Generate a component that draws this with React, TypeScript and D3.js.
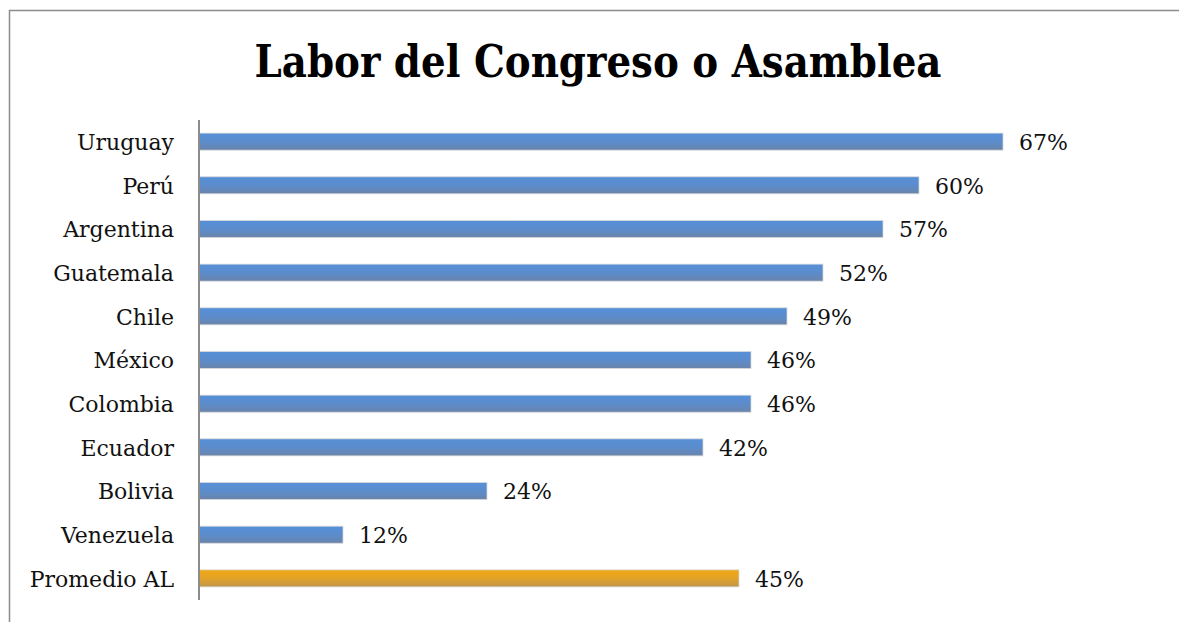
import React from "react";
import * as d3 from "d3";

const categories = ["Uruguay", "Perú", "Argentina", "Guatemala", "Chile", "México", "Colombia", "Ecuador", "Bolivia", "Venezuela", "Promedio AL"];
const values = [0.67, 0.60, 0.57, 0.52, 0.49, 0.46, 0.46, 0.42, 0.24, 0.12, 0.45];
const highlight = ["Promedio AL"];
const title = "Labor del Congreso o Asamblea";

const W = 1179;
const H = 622;
const font = "'DejaVu Serif', 'Liberation Serif', serif";

export default function App() {
  const x = d3.scaleLinear().domain([0, 0.7]).range([199, 1039]);
  const y = d3.scaleBand<string>().domain(categories).range([120, 600]).paddingInner(0.61).paddingOuter(0.3);
  const fmt = d3.format(".0%");
  return (
    <svg width={W} height={H} style={{ position: "absolute", left: 0, top: 0, display: "block", background: "#fff" }}>
      <defs>
        <linearGradient id="gBlue" x1="0" y1="0" x2="0" y2="1">
          <stop offset="0" stopColor="#5690d8" />
          <stop offset="0.5" stopColor="#5b8ccc" />
          <stop offset="1" stopColor="#6a84aa" />
        </linearGradient>
        <linearGradient id="gOrange" x1="0" y1="0" x2="0" y2="1">
          <stop offset="0" stopColor="#efa816" />
          <stop offset="0.5" stopColor="#e2a227" />
          <stop offset="1" stopColor="#c0964c" />
        </linearGradient>
      </defs>
      <rect x={9.5} y={10.5} width={W + 20} height={H + 20} fill="#fff" stroke="#8c8c8c" strokeWidth={1.5} />
      <text x={598} y={77} textAnchor="middle" fontFamily={font} fontWeight="bold" fontSize={45} textLength={687} lengthAdjust="spacingAndGlyphs" fill="#000">{title}</text>
      {categories.map((c, i) => {
        const by = y(c)!;
        const bh = y.bandwidth();
        const isHi = highlight.includes(c);
        return (
          <g key={c}>
            <rect x={x(0)} y={by} width={x(values[i]) - x(0)} height={bh} fill={isHi ? "url(#gOrange)" : "url(#gBlue)"} stroke="#d9d9d9" strokeWidth={0.8} />
            <text x={x(values[i]) + 16} y={by + bh / 2} dy="0.38em" fontFamily={font} fontSize={22} fill="#111">{fmt(values[i])}</text>
            <text x={174} y={by + bh / 2} dy="0.38em" textAnchor="end" fontFamily={font} fontSize={22} fill="#111">{c}</text>
          </g>
        );
      })}
      <line x1={199} x2={199} y1={120} y2={600} stroke="#8c8c8c" strokeWidth={2} />
    </svg>
  );
}
